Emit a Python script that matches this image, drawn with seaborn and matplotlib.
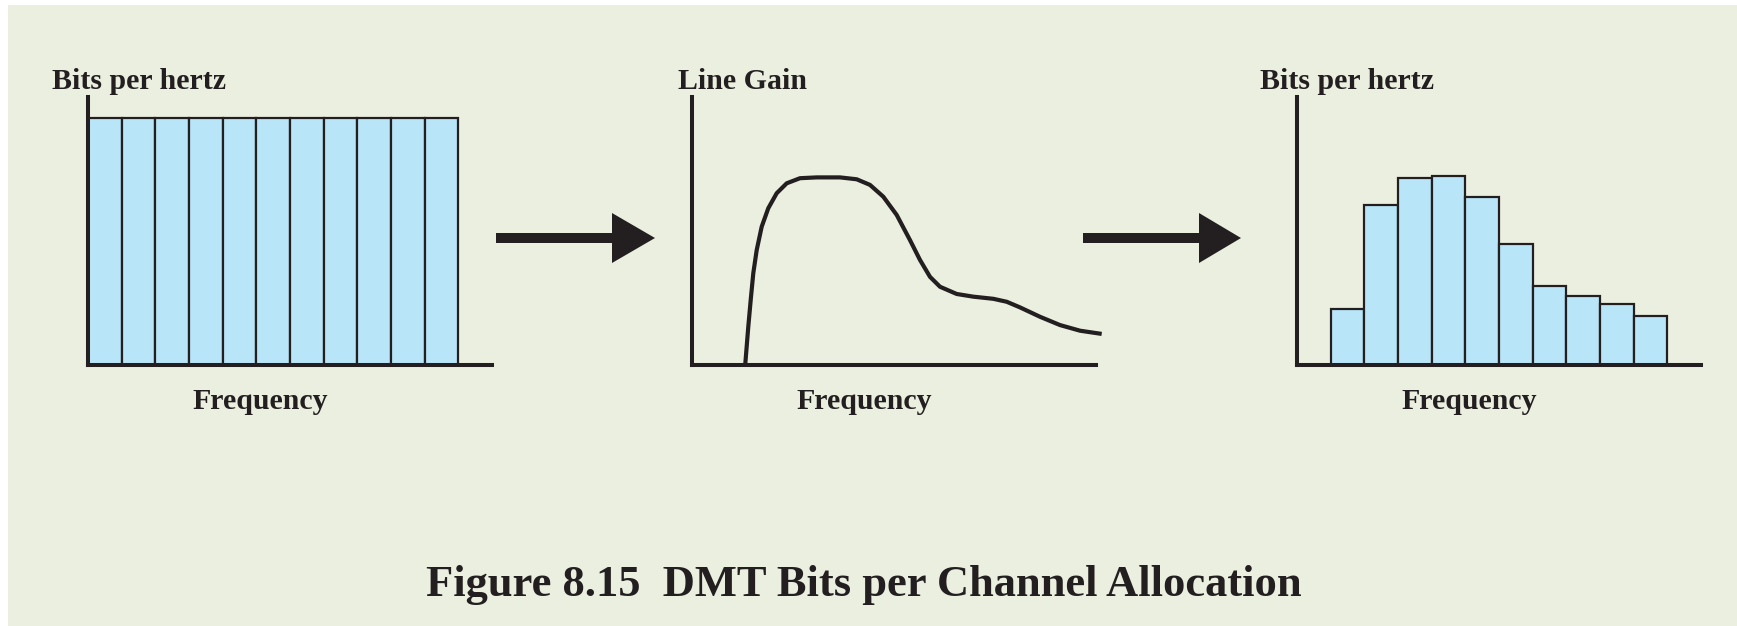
import matplotlib
matplotlib.use('Agg')
import matplotlib.pyplot as plt
from matplotlib.patches import Rectangle, Polygon
import seaborn as sns
import pandas as pd

# data
channels = [str(i) for i in range(1, 12)]
flat_bits = [9.2] * 11
alloc_bits = [0, 2.09, 5.97, 6.98, 7.05, 6.27, 4.51, 2.95, 2.57, 2.28, 1.83]
gain_freq = [1.58, 1.672, 1.744, 1.821, 1.922, 2.070, 2.266, 2.516, 2.813, 3.208,
             3.704, 4.396, 4.892, 5.287, 5.682, 6.080, 6.475, 6.772, 7.069, 7.366,
             7.862, 8.355, 8.949, 9.347, 9.742, 10.336, 10.931, 11.525, 12.169]
gain_vals = [0.0, 1.43, 2.43, 3.43, 4.29, 5.16, 5.85, 6.41, 6.78, 6.97,
             7.00, 7.00, 6.93, 6.72, 6.28, 5.60, 4.66, 3.92, 3.29, 2.92,
             2.65, 2.55, 2.47, 2.36, 2.15, 1.80, 1.49, 1.28, 1.16]
ylabels = ['Bits per hertz', 'Line Gain', 'Bits per hertz']
xlabel = 'Frequency'
title = 'Figure 8.15  DMT Bits per Channel Allocation'

W, H = 1737, 626
BG = '#EBEFDF'
INK = '#231F20'
BAR = '#B9E5F8'
FONT = ['Liberation Serif', 'DejaVu Serif']

sns.set_theme(style='white')
plt.rcParams['font.family'] = FONT

fig = plt.figure(figsize=(W / 100, H / 100), dpi=100)
fig.patch.set_facecolor('white')
fig.add_artist(Rectangle((8 / W, 0), 1, (H - 5) / H, transform=fig.transFigure,
                         facecolor=BG, edgecolor='none', zorder=-10))


def px_axes(x0, y_axis, width, height):
    return fig.add_axes([x0 / W, (H - y_axis) / H, width / W, height / H])


lefts = [88, 692, 1297]
axes = [px_axes(x, 365, 404, 268) for x in lefts]

# panel 1: flat allocation
df1 = pd.DataFrame({'channel': channels, 'bits': flat_bits})
sns.barplot(data=df1, x='channel', y='bits', order=channels, width=1,
            color=BAR, saturation=1, edgecolor=INK, linewidth=1.6, ax=axes[0])
axes[0].set_xlim(-0.5, 11.5)

# panel 2: line gain
df2 = pd.DataFrame({'freq': gain_freq, 'gain': gain_vals})
sns.lineplot(data=df2, x='freq', y='gain', sort=False, color=INK,
             linewidth=3.0, ax=axes[1], clip_on=False,
             solid_joinstyle='round', solid_capstyle='butt')
axes[1].set_xlim(0, 12)

# panel 3: adapted allocation
df3 = pd.DataFrame({'channel': channels, 'bits': alloc_bits})
sns.barplot(data=df3, x='channel', y='bits', order=channels, width=1,
            color=BAR, saturation=1, edgecolor=INK, linewidth=1.6, ax=axes[2])
axes[2].set_xlim(-0.5, 11.5)

label_dx = [-36, -13.5, -37]
for ax, lab, dx in zip(axes, ylabels, label_dx):
    ax.set_ylim(0, 10)
    ax.patch.set_alpha(0)
    ax.set_xticks([])
    ax.set_yticks([])
    ax.set_xlabel('')
    ax.set_ylabel('')
    for side in ['top', 'right']:
        ax.spines[side].set_visible(False)
    for side in ['left', 'bottom']:
        ax.spines[side].set_color(INK)
        ax.spines[side].set_linewidth(2.9)
        ax.spines[side].set_capstyle('projecting')
        ax.spines[side].set_zorder(5)
    ax.text(dx / 404, (365 - 89) / 268, lab, transform=ax.transAxes,
            ha='left', va='baseline', fontsize=21.5, fontweight='bold',
            color=INK, family=FONT)
    ax.text(172 / 404, (365 - 409) / 268, xlabel, transform=ax.transAxes,
            ha='center', va='baseline', fontsize=21.5, fontweight='bold',
            color=INK, family=FONT)


# arrows between panels (pixel positions)
def arrow(x0, x1, tip, yc=238):
    def f(x, y):
        return (x / W, (H - y) / H)
    fig.add_artist(Polygon([f(x0, yc - 5), f(x1 + 1, yc - 5), f(x1 + 1, yc + 5), f(x0, yc + 5)],
                           closed=True, transform=fig.transFigure,
                           facecolor=INK, edgecolor='none'))
    fig.add_artist(Polygon([f(x1, yc - 25), f(tip, yc), f(x1, yc + 25)],
                           closed=True, transform=fig.transFigure,
                           facecolor=INK, edgecolor='none'))


arrow(496, 612, 655)
arrow(1083, 1199, 1241)

fig.text(864 / W, (H - 596) / H, title, ha='center', va='baseline',
         fontsize=32, fontweight='bold', color=INK, family=FONT)

fig.savefig('out.png', dpi=100, facecolor=fig.get_facecolor())
